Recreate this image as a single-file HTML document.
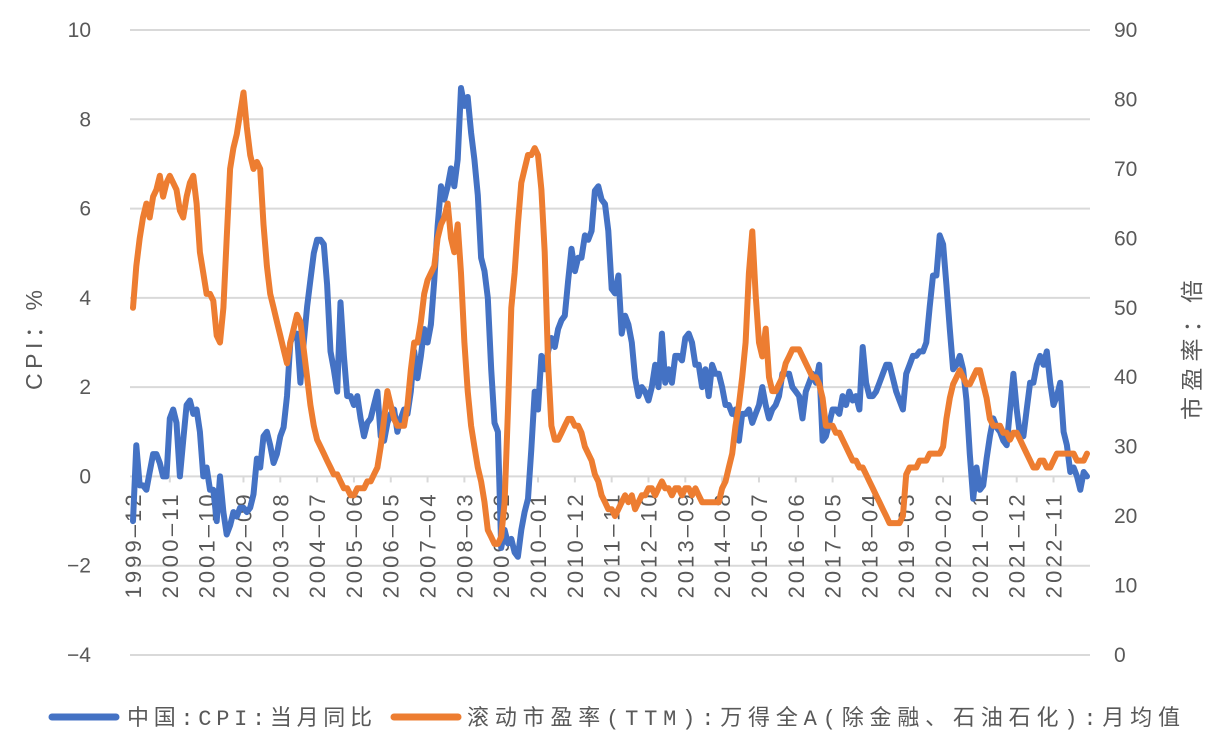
<!DOCTYPE html>
<html><head><meta charset="utf-8">
<style>
body{margin:0;background:#fff;width:1218px;height:741px;overflow:hidden;font-family:"Liberation Sans","Noto Sans CJK SC",sans-serif;}
svg text{fill:#595959;}
</style></head>
<body>
<svg id="chart" width="1218" height="741" xmlns="http://www.w3.org/2000/svg">
<g id="grid"></g>
<g id="yl"></g>
<g id="yr"></g>
<g id="xa"></g>
<g id="series"></g>
<text transform="translate(42,340) rotate(-90)" text-anchor="middle" font-size="23" textLength="100" lengthAdjust="spacing" style="font-family:'Liberation Sans','Noto Sans CJK SC',sans-serif">CPI：%</text>
<text transform="translate(1200,350) rotate(-90)" text-anchor="middle" font-size="23" textLength="140" lengthAdjust="spacing" style="font-family:'Liberation Sans','Noto Sans CJK SC',sans-serif">市盈率：倍</text>
<g>
<line x1="52" y1="717" x2="116" y2="717" stroke="#4472c4" stroke-width="7" stroke-linecap="round"/>
<text x="127" y="725" font-size="22" textLength="245" lengthAdjust="spacing" style="font-family:'Liberation Mono','Noto Sans CJK SC',monospace">中国:CPI:当月同比</text>
<line x1="394" y1="717" x2="458" y2="717" stroke="#ed7d31" stroke-width="7" stroke-linecap="round"/>
<text x="467" y="725" font-size="22" textLength="713" lengthAdjust="spacing" style="font-family:'Liberation Mono','Noto Sans CJK SC',monospace">滚动市盈率(TTM):万得全A(除金融、石油石化):月均值</text>
</g>
</svg>
<script>
const leftTicks=[10,8,6,4,2,0,-2,-4];
const rightTicks=[90,80,70,60,50,40,30,20,10,0];
const startYear=1999, startMonth=12;
const xLabelStep=11;
const cpi=[-1.0,
0.7,-0.2,-0.2,-0.3,0.1,0.5,0.5,0.3,0,0,1.3,1.5,
1.2,0,0.8,1.6,1.7,1.4,1.5,1.0,0,0.2,-0.3,-0.3,
-1.0,0,-0.8,-1.3,-1.1,-0.8,-0.9,-0.7,-0.7,-0.8,-0.7,-0.4,
0.4,0.2,0.9,1.0,0.7,0.3,0.5,0.9,1.1,1.8,3.0,3.2,
3.2,2.1,3.0,3.8,4.4,5.0,5.3,5.3,5.2,4.3,2.8,2.4,
1.9,3.9,2.7,1.8,1.8,1.6,1.8,1.3,0.9,1.2,1.3,1.6,
1.9,0.9,0.8,1.2,1.4,1.5,1.0,1.3,1.5,1.4,1.9,2.8,
2.2,2.7,3.3,3.0,3.4,4.4,5.6,6.5,6.2,6.5,6.9,6.5,
7.1,8.7,8.3,8.5,7.7,7.1,6.3,4.9,4.6,4.0,2.4,1.2,
1.0,-1.6,-1.2,-1.5,-1.4,-1.7,-1.8,-1.2,-0.8,-0.5,0.6,1.9,
1.5,2.7,2.4,2.8,3.1,2.9,3.3,3.5,3.6,4.4,5.1,4.6,
4.9,4.9,5.4,5.3,5.5,6.4,6.5,6.2,6.1,5.5,4.2,4.1,
4.5,3.2,3.6,3.4,3.0,2.2,1.8,2.0,1.9,1.7,2.0,2.5,
2.0,3.2,2.1,2.4,2.1,2.7,2.7,2.6,3.1,3.2,3.0,2.5,
2.5,2.0,2.4,1.8,2.5,2.3,2.3,2.0,1.6,1.6,1.4,1.5,
0.8,1.4,1.4,1.5,1.2,1.4,1.6,2.0,1.6,1.3,1.5,1.6,
1.8,2.3,2.3,2.3,2.0,1.9,1.8,1.3,1.9,2.1,2.3,2.1,
2.5,0.8,0.9,1.2,1.5,1.5,1.4,1.8,1.6,1.9,1.7,1.8,
1.5,2.9,2.1,1.8,1.8,1.9,2.1,2.3,2.5,2.5,2.2,1.9,
1.7,1.5,2.3,2.5,2.7,2.7,2.8,2.8,3.0,3.8,4.5,4.5,
5.4,5.2,4.3,3.3,2.4,2.5,2.7,2.4,1.7,0.5,-0.5,0.2,
-0.3,-0.2,0.4,0.9,1.3,1.1,1.0,0.8,0.7,1.5,2.3,1.5,
0.9,0.9,1.5,2.1,2.1,2.5,2.7,2.5,2.8,2.1,1.6,1.8,
2.1,1.0,0.7,0.1,0.2,0,-0.3,0.1,0];
const pe=[50,
56,60,63,65,63,66,67,69,66,68,69,68,
67,64,63,66,68,69,65,58,55,52,52,51,
46,45,50,60,70,73,75,78,81,76,72,70,
71,70,62,56,52,50,48,46,44,42,45,47,
49,48,44,40,36,33,31,30,29,28,27,26,
26,25,24,24,23,23,24,24,24,25,25,26,
27,30,34,38,36,34,33,33,33,36,41,45,
45,48,52,54,55,56,60,62,63,65,60,58,
62,55,45,38,33,30,27,25,22,18,17,16,
16,17,22,35,50,55,62,68,70,72,72,73,
72,67,58,42,33,31,31,32,33,34,34,33,
33,32,30,29,28,26,25,23,22,21,21,20,
21,22,23,22,23,21,22,23,23,24,24,23,
24,25,24,24,23,24,24,23,24,24,23,24,
23,22,22,22,22,22,22,24,25,27,29,33,
36,40,45,55,61,52,45,43,47,40,38,38,
39,40,42,43,44,44,44,43,42,41,40,40,
39,37,33,33,33,32,32,31,30,29,28,28,
27,27,26,25,24,23,22,21,20,19,19,19,
19,20,26,27,27,27,28,28,28,29,29,29,
29,30,34,37,39,40,41,40,39,39,40,41,
41,39,37,34,33,33,33,32,32,31,32,32,
31,30,29,28,27,27,28,28,27,27,28,29,
29,29,29,29,29,28,28,28,29];

const NS='http://www.w3.org/2000/svg';
const X0=133, X1=1087, GX0=130, GX1=1090;
const n=cpi.length;
const xs=i=>X0+(X1-X0)*i/(n-1);
const yL=v=>30+(10-v)*(625/14);
const yR=v=>30+(90-v)*(625/90);
function mk(tag,attrs,parent){const e=document.createElementNS(NS,tag);for(const k in attrs)e.setAttribute(k,attrs[k]);parent.appendChild(e);return e;}
const grid=document.getElementById('grid'),yl=document.getElementById('yl'),yr=document.getElementById('yr'),xa=document.getElementById('xa'),ser=document.getElementById('series');
leftTicks.forEach(v=>{
  const l=mk('line',{x1:GX0,x2:GX1,y1:yL(v),y2:yL(v),stroke:'#d9d9d9','stroke-width':2},grid);
  
  
  const t=mk('text',{x:91,y:yL(v)+7,'text-anchor':'end','font-size':21},yl);
  t.textContent=(v<0?'\u2212'+(-v):String(v));
  
  
});
rightTicks.forEach(v=>{
  const t=mk('text',{x:1114,y:yR(v)+7,'text-anchor':'start','font-size':21},yr);
  t.textContent=String(v);
  
  
});
for(let i=0;i<n;i+=xLabelStep){
  const m0=startMonth-1+i;const yy=startYear+Math.floor(m0/12);const mm=m0%12+1;
  const lab=yy+'-'+(mm<10?'0':'')+mm;
  const x=xs(i);
  const tk=mk('line',{x1:x,x2:x,y1:yL(0),y2:yL(0)+6,stroke:'#d9d9d9','stroke-width':2},xa);
  
  
  const t=mk('text',{transform:`translate(${x+8},${yL(0)+18}) rotate(-90)`,'text-anchor':'end','font-size':22,textLength:104,lengthAdjust:'spacing'},xa);
  t.textContent=lab.replace(/-/g,'\u2013');
  
  
}
function path(arr,yf,color,name){
  const d=arr.map((v,i)=>(i?'L':'M')+xs(i).toFixed(1)+' '+yf(v).toFixed(1)).join(' ');
  const p=mk('path',{d:d,fill:'none',stroke:color,'stroke-width':6,'stroke-linejoin':'round','stroke-linecap':'round'},ser);
  
  
}
path(cpi,yL,'#4472c4','cpi-line');
path(pe,yR,'#ed7d31','pe-line');
</script>
</body></html>
